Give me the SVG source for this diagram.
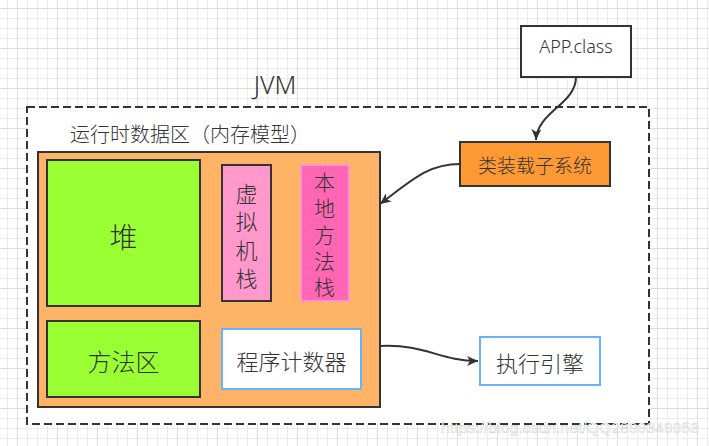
<svg xmlns="http://www.w3.org/2000/svg" width="709" height="446" viewBox="0 0 709 446">
<style>
.t{font-family:"Microsoft YaHei","Noto Sans CJK SC","Liberation Sans",sans-serif;font-weight:300;fill:#333;text-anchor:middle;dominant-baseline:central}
.box{stroke:#333;stroke-width:2}
.blue{fill:#fff;stroke:#66b2ff;stroke-width:2}
.conn{fill:none;stroke:#333;stroke-width:2}
</style>
<defs>
<pattern id="grid" patternUnits="userSpaceOnUse" x="17" y="8" width="40" height="40">
<path d="M10.5,0V40M20.5,0V40M30.5,0V40M0,10.5H40M0,20.5H40M0,30.5H40" stroke="#ebebeb" stroke-width="1" fill="none"/>
<path d="M0.5,0V40M0,0.5H40" stroke="#dcdcdc" stroke-width="1" fill="none"/>
</pattern>
<marker id="arr" markerUnits="userSpaceOnUse" markerWidth="12" markerHeight="10" refX="11" refY="5" orient="auto">
<path d="M0,0 L11,5 L0,10 L3,5 z" fill="#333"/>
</marker>
</defs>
<rect width="709" height="446" fill="#fff"/>
<rect width="709" height="446" fill="url(#grid)"/>
<g id="jvm">
<rect x="27" y="107" width="622" height="317" fill="#fff" stroke="#333" stroke-width="2" stroke-dasharray="8 4"/>
<text class="t" x="275" y="84" style="font-family:'Microsoft YaHei','Noto Sans','Liberation Sans',sans-serif;font-size:25px">JVM</text>
</g>
<g id="runtime">
<text class="t" x="190" y="133" style="font-size:20px">运行时数据区（内存模型）</text>
<rect class="box" x="38" y="152" width="342" height="255" fill="#ffb366"/>
</g>
<g id="heap">
<rect class="box" x="47" y="160" width="153" height="146" fill="#99ff33"/>
<text class="t" x="123.5" y="236" style="font-size:28px">堆</text>
</g>
<g id="vmstack">
<rect class="box" x="222" y="165" width="49" height="136" fill="#ff99cc"/>
<text class="t" x="246.5" y="192" style="font-size:22px">虚</text>
<text class="t" x="246.5" y="220" style="font-size:22px">拟</text>
<text class="t" x="246.5" y="249" style="font-size:22px">机</text>
<text class="t" x="246.5" y="277" style="font-size:22px">栈</text>
</g>
<g id="nativestack">
<rect x="301" y="165" width="48" height="136" fill="#ff66b3" stroke="#ff99cc" stroke-width="2"/>
<text class="t" x="324.5" y="181" style="font-size:21px">本</text>
<text class="t" x="324.5" y="207" style="font-size:21px">地</text>
<text class="t" x="324.5" y="234" style="font-size:21px">方</text>
<text class="t" x="324.5" y="260" style="font-size:21px">法</text>
<text class="t" x="324.5" y="286" style="font-size:21px">栈</text>
</g>
<g id="methodarea">
<rect class="box" x="47" y="321" width="153" height="76" fill="#99ff33"/>
<text class="t" x="123.5" y="360" style="font-size:24px">方法区</text>
</g>
<g id="pc">
<rect class="blue" x="222" y="329" width="139" height="60"/>
<text class="t" x="291.5" y="360" style="font-size:22px">程序计数器</text>
</g>
<g id="engine">
<rect class="blue" x="480" y="337" width="120" height="48"/>
<text class="t" x="540" y="362" style="font-size:22px">执行引擎</text>
</g>
<g id="classloader">
<rect class="box" x="460" y="142" width="150" height="44" fill="#ff9933"/>
<text class="t" x="535" y="164" style="font-size:19px">类装载子系统</text>
</g>
<g id="appclass">
<rect class="box" x="521" y="26" width="110" height="51" fill="#fff"/>
<text class="t" x="576" y="46" style="font-family:'Microsoft YaHei','Noto Sans','Liberation Sans',sans-serif;font-size:18px">APP.class</text>
</g>
<g id="connectors">
<path class="conn" d="M576,77 C576,104 537,112 536,140" marker-end="url(#arr)"/>
<path class="conn" d="M460,164 C428,164 412,180 380,204" marker-end="url(#arr)"/>
<path class="conn" d="M381,346 C425,344 440,361 478,361" marker-end="url(#arr)"/>
</g>
<text x="441" y="433" textLength="258" lengthAdjust="spacingAndGlyphs" style="font-family:'Liberation Sans',sans-serif;font-size:15px" fill="#fafafa" stroke="#000" stroke-opacity="0.12" stroke-width="0.8">https://blog.csdn.net/QQ2899349953</text>
</svg>
